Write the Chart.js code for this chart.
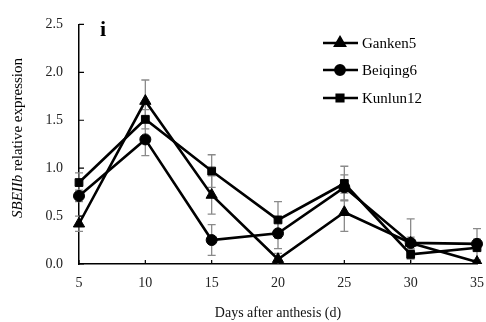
<!DOCTYPE html>
<html lang="en">
<head>
<meta charset="UTF-8">
<title>SBEIIb relative expression</title>
<script src="https://cdn.jsdelivr.net/npm/chart.js"></script>
<style>
  html, body { margin: 0; padding: 0; background: #fff; }
  #wrap { width: 486px; height: 322px; }
</style>
</head>
<body>
<div id="wrap"><canvas id="expr"></canvas></div>
<script>
// days after anthesis
const days = ['5', '10', '15', '20', '25', '30', '35'];
const yTicks = [0, 0.5, 1.0, 1.5, 2.0, 2.5];

const ganken5 = [0.42, 1.70, 0.72, 0.05, 0.54, 0.22, 0.02];
const beiqing6 = [0.71, 1.30, 0.25, 0.32, 0.80, 0.22, 0.21];
const kunlun12 = [0.85, 1.51, 0.97, 0.46, 0.84, 0.10, 0.17];

// standard deviations
const ganken5Err = [0.08, 0.22, 0.20, 0.06, 0.20, 0.25, 0.02];
const beiqing6Err = [0.06, 0.17, 0.16, 0.16, 0.13, 0.06, 0.05];
const kunlun12Err = [0.10, 0.10, 0.17, 0.19, 0.18, 0.05, 0.20];

const serif = '"Liberation Serif", "DejaVu Serif", serif';

const errorBars = {
    id: 'errorBars',
    beforeDatasetsDraw(chart) {
        const ctx = chart.ctx;
        const y = chart.scales.y;
        ctx.save();
        ctx.strokeStyle = '#8a8a8a';
        ctx.lineWidth = 1.3;
        chart.data.datasets.forEach((ds, i) => {
            const meta = chart.getDatasetMeta(i);
            meta.data.forEach((pt, j) => {
                const e = ds.err[j];
                if (!e) return;
                const v = ds.data[j];
                const top = y.getPixelForValue(v + e);
                const bot = y.getPixelForValue(Math.max(0, v - e));
                ctx.beginPath();
                ctx.moveTo(pt.x, top); ctx.lineTo(pt.x, bot);
                ctx.moveTo(pt.x - 4, top); ctx.lineTo(pt.x + 4, top);
                if (v - e > 0) { ctx.moveTo(pt.x - 4, bot); ctx.lineTo(pt.x + 4, bot); }
                ctx.stroke();
            });
        });
        ctx.restore();
    }
};

const decorations = {
    id: 'decorations',
    afterDraw(chart) {
        const ctx = chart.ctx;
        const xs = chart.scales.x, ys = chart.scales.y;
        const area = chart.chartArea;
        ctx.save();
        // inward ticks
        ctx.strokeStyle = '#000';
        ctx.lineWidth = 1.2;
        ctx.beginPath();
        yTicks.forEach(t => {
            const py = ys.getPixelForValue(t);
            ctx.moveTo(area.left, py); ctx.lineTo(area.left + 5, py);
        });
        days.forEach((d, i) => {
            const px = xs.getPixelForValue(i);
            ctx.moveTo(px, area.bottom); ctx.lineTo(px, area.bottom - 4);
        });
        ctx.stroke();

        // panel letter
        ctx.fillStyle = '#000';
        ctx.font = 'bold 22px ' + serif;
        ctx.textBaseline = 'alphabetic';
        ctx.fillText('i', 100, 36);

        // y axis title with italic gene name
        ctx.translate(18, 138);
        ctx.rotate(-Math.PI / 2);
        ctx.textBaseline = 'middle';
        const part1 = 'SBEIIb';
        const part2 = ' relative expression';
        ctx.font = 'italic 15px ' + serif;
        const w1 = ctx.measureText(part1).width;
        ctx.font = '15px ' + serif;
        const w2 = ctx.measureText(part2).width;
        let x0 = -(w1 + w2) / 2;
        ctx.font = 'italic 15px ' + serif;
        ctx.fillText(part1, x0, 0);
        ctx.font = '15px ' + serif;
        ctx.fillText(part2, x0 + w1, 0);
        ctx.restore();

        // legend
        ctx.save();
        const rows = [43, 70, 98];
        chart.data.datasets.forEach((ds, i) => {
            const ly = rows[i];
            ctx.strokeStyle = '#000';
            ctx.lineWidth = 2.5;
            ctx.beginPath();
            ctx.moveTo(323, ly); ctx.lineTo(358, ly);
            ctx.stroke();
            Chart.helpers.drawPoint(ctx, {
                pointStyle: ds.pointStyle,
                radius: ds.pointRadius * 0.85,
                rotation: 0,
                borderWidth: 1
            }, 340, ly);
            ctx.fillStyle = '#000';
            ctx.font = '15px ' + serif;
            ctx.textBaseline = 'middle';
            ctx.fillText(ds.label, 362, ly + 1);
        });
        ctx.restore();
    }
};

function series(label, data, err, style, r) {
    return {
        label: label,
        data: data,
        err: err,
        borderColor: '#000',
        backgroundColor: '#000',
        borderWidth: 2.6,
        pointStyle: style,
        pointRadius: r,
        pointBackgroundColor: '#000',
        pointBorderColor: '#000',
        pointBorderWidth: 1,
        tension: 0,
        fill: false
    };
}

new Chart(document.getElementById('expr'), {
    type: 'line',
    data: {
        labels: days,
        datasets: [
            series('Ganken5', ganken5, ganken5Err, 'triangle', 6.5),
            series('Beiqing6', beiqing6, beiqing6Err, 'circle', 5.5),
            series('Kunlun12', kunlun12, kunlun12Err, 'rect', 5.5)
        ]
    },
    options: {
        responsive: true,
        maintainAspectRatio: false,
        animation: false,
        layout: { padding: { top: 19, right: 0, left: 0, bottom: 0 } },
        plugins: {
            legend: { display: false },
            tooltip: { enabled: false }
        },
        scales: {
            x: {
                offset: false,
                grid: { display: false, drawTicks: false },
                border: { color: '#000', width: 1.5 },
                ticks: { color: '#222', font: { family: serif, size: 14 }, padding: 11, maxRotation: 0 },
                title: { display: true, text: 'Days after anthesis (d)', color: '#111', font: { family: serif, size: 14 }, padding: { top: 12, bottom: 0 } },
                afterFit(scale) {
                    scale.height = 58;
                    scale.paddingRight = 9;
                }
            },
            y: {
                min: 0,
                max: 2.5,
                afterBuildTicks(scale) { scale.ticks = yTicks.map(v => ({ value: v })); },
                grid: { display: false, drawTicks: false },
                border: { color: '#000', width: 1.5 },
                ticks: {
                    color: '#222',
                    font: { family: serif, size: 14 },
                    padding: 16,
                    callback: v => Number(v).toFixed(1)
                },
                afterFit(scale) { scale.width = 79; }
            }
        }
    },
    plugins: [errorBars, decorations]
});
</script>
</body>
</html>
